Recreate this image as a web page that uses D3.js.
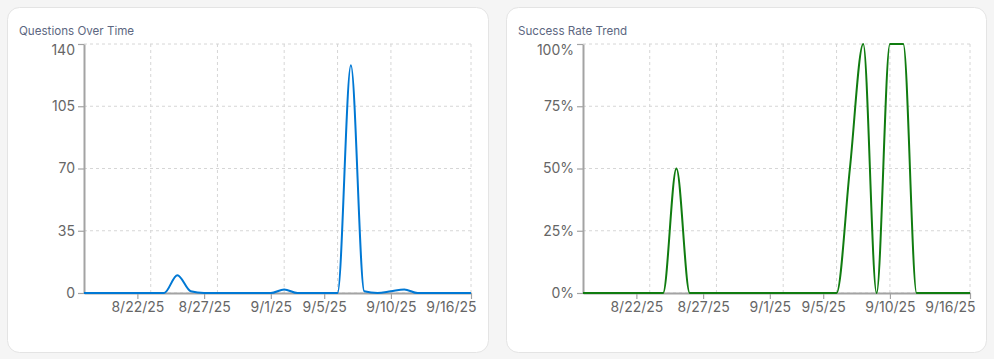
<!DOCTYPE html>
<html>
<head>
<meta charset="utf-8">
<script src="https://cdn.jsdelivr.net/npm/d3@7"></script>
<style>
  html, body { margin: 0; padding: 0; background: #f5f5f5; }
  body { width: 994px; height: 359px; overflow: hidden; font-family: Inter, "Noto Sans", sans-serif; }
  svg { display: block; }
</style>
</head>
<body>
<svg id="chart" width="994" height="359"></svg>
<script>
// ---- data ----
const dates = ["2025-08-18","2025-08-19","2025-08-20","2025-08-21","2025-08-22","2025-08-23","2025-08-24","2025-08-25","2025-08-26","2025-08-27",
               "2025-08-28","2025-08-29","2025-08-30","2025-08-31","2025-09-01","2025-09-02","2025-09-03","2025-09-04","2025-09-05","2025-09-06",
               "2025-09-07","2025-09-08","2025-09-09","2025-09-10","2025-09-11","2025-09-12","2025-09-13","2025-09-14","2025-09-15","2025-09-16"];
const questions = [0,0,0,0,0,0,0,10,1,0, 0,0,0,0,0,2,0,0,0,0, 128,1,0,1,2,0,0,0,0,0];
const successRate = [0,0,0,0,0,0,0,0.5,0,0, 0,0,0,0,0,0,0,0,0,0, 0.5,1,0,1,1,0,0,0,0,0];
const xTickDates = ["2025-08-22","2025-08-27","2025-09-01","2025-09-05","2025-09-10","2025-09-16"];
const xTickLabels = ["8/22/25","8/27/25","9/1/25","9/5/25","9/10/25","9/16/25"];
const xGridDates = ["2025-08-23","2025-08-28","2025-09-02","2025-09-06","2025-09-10","2025-09-16"];
const qTicks = [0,35,70,105,140];
const sTicks = [0,0.25,0.5,0.75,1];
const titles = ["Questions Over Time","Success Rate Trend"];

const parse = s => { const [y,m,d] = s.split("-").map(Number); return new Date(y, m-1, d); };

const svg = d3.select("#chart");

function panel(opts) {
  const g = svg.append("g");
  // card
  g.append("rect")
    .attr("x", opts.cx + 0.5).attr("y", 7.5)
    .attr("width", opts.cw).attr("height", 345)
    .attr("rx", 12).attr("ry", 12)
    .attr("fill", "#ffffff").attr("stroke", "#e4e4e4").attr("stroke-width", 1);
  g.append("text")
    .attr("x", opts.cx + 12).attr("y", 35)
    .attr("font-size", 11.6).attr("fill", "#5d6781")
    .text(opts.title);

  const left = opts.px, right = opts.px + 387, top = 44, bottom = 293;
  const x = d3.scaleTime().domain([parse(dates[0]), parse(dates[dates.length-1])]).range([left, right]);
  const y = d3.scaleLinear().domain([0, opts.max]).range([bottom, top]);

  // grid
  const grid = g.append("g").attr("stroke", "#d6d6d6").attr("stroke-dasharray", "3 3").attr("stroke-width", 1);
  opts.ticks.forEach(t => {
    grid.append("line").attr("x1", left).attr("x2", right).attr("y1", y(t)).attr("y2", y(t));
  });
  xGridDates.forEach(d => {
    const xx = x(parse(d));
    grid.append("line").attr("x1", xx).attr("x2", xx).attr("y1", top).attr("y2", bottom);
  });

  // axes
  const xa = g.append("g").attr("transform", `translate(0,${bottom})`)
    .call(d3.axisBottom(x).tickValues(xTickDates.map(parse))
      .tickFormat((d, i) => xTickLabels[i]).tickSizeOuter(0));
  const ya = g.append("g").attr("transform", `translate(${left},0)`)
    .call(d3.axisLeft(y).tickValues(opts.ticks).tickFormat(opts.fmt).tickSizeOuter(0));
  [xa, ya].forEach(a => {
    a.select(".domain").attr("stroke", "#a3a3a3").attr("stroke-width", 2);
    a.selectAll(".tick line").attr("stroke", "#a3a3a3").attr("stroke-width", 1.2);
    a.selectAll(".tick text").attr("fill", "#666666").attr("font-size", 14)
      .attr("font-family", "Inter, 'Noto Sans', sans-serif");
  });
  ya.selectAll(".tick text").filter(d => d === opts.max).attr("dy", "0.72em");
  const lastTick = +parse(xTickDates[xTickDates.length - 1]);
  xa.selectAll(".tick text").filter(d => +d === lastTick)
    .attr("text-anchor", "end").attr("dx", 5);

  // line
  const line = d3.line()
    .x((d, i) => x(parse(dates[i])))
    .y(d => y(d))
    .curve(d3.curveMonotoneX);
  g.append("path").datum(opts.values)
    .attr("d", line).attr("fill", "none")
    .attr("stroke", opts.color).attr("stroke-width", 2)
    .attr("stroke-linejoin", "round");
}

panel({cx: 7, cw: 481, px: 84, title: titles[0], max: 140, ticks: qTicks,
       fmt: d => String(d), values: questions, color: "#0078d4"});
panel({cx: 506, cw: 480, px: 583, title: titles[1], max: 1, ticks: sTicks,
       fmt: d => Math.round(d * 100) + "%", values: successRate, color: "#107c10"});
</script>
</body>
</html>
